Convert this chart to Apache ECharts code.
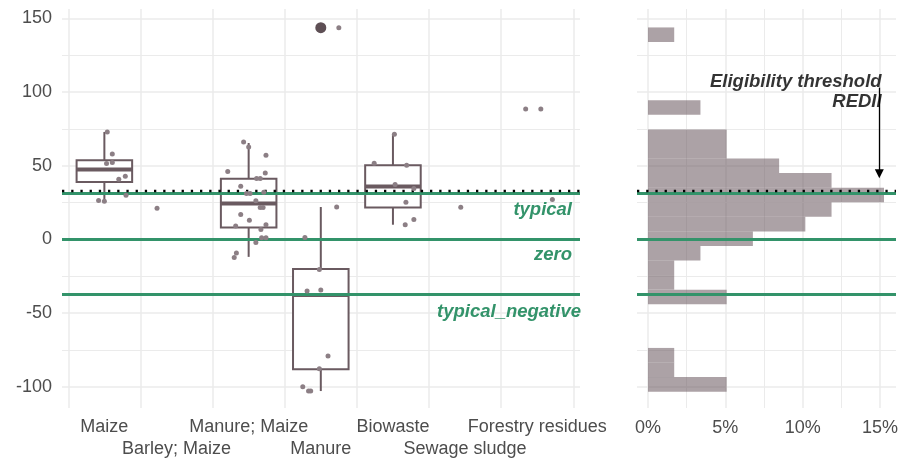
<!DOCTYPE html>
<html><head><meta charset="utf-8">
<script src="https://cdn.jsdelivr.net/npm/echarts@6/dist/echarts.min.js"></script>
<style>html,body{margin:0;padding:0;background:#fff}#c{width:910px;height:460px}</style>
</head><body><div id="c"></div>
<script>
// ---------- data ----------
const categories = ['Maize', 'Barley; Maize', 'Manure; Maize', 'Manure', 'Biowaste', 'Sewage sludge', 'Forestry residues'];

// box stats: [category index, lower whisker, Q1, median, Q3, upper whisker]
const boxMaize       = [0, 26, 39, 47.4, 53.7, 72.9];
const boxManureMaize = [2, -11.8, 8.1, 24.4, 41.1, 65.4];
const boxManure      = [3, -102.8, -88, -37.6, -20, 22];
const boxBiowaste    = [4, 10, 21.7, 36, 50.3, 71.3];

// outliers: [category index, value]
const outlierPoints = [[3, 143.6]];

// jittered observations: category index, horizontal jitter, value
const pointCat = [
  0,0,0,0,0,0,0,0,0,
  1,
  2,2,2,2,2,2,2,2,2,2,2,2,2,2,2,2,2,2,2,2,2,2,2,2,
  3,3,3,3,3,3,3,3,3,3,3,
  4,4,4,4,4,4,4,4,
  5,
  6,6,6
];
const pointJitter = [
  0.04,0.11,0.03,0.11,0.2,0.29,0.3,-0.08,0,
  -0.27,
  -0.07,0,0.24,-0.29,0.23,0.11,0.16,-0.11,-0.03,0.02,0.21,0.1,0.16,0.2,-0.11,0.01,-0.18,0.24,0.17,0.18,0.24,0.1,-0.17,-0.2,
  0.22,-0.22,-0.02,-0.19,0,0.1,-0.02,-0.25,-0.17,-0.14,0.25,
  0.02,-0.26,0.19,0.03,0.29,0.18,0.29,0.17,
  -0.06,
  -0.16,0.05,0.21
];
const pointValue = [
  72.9,58,51.5,52.2,40.9,42.9,30,26.4,26,
  21.2,
  66.1,62.7,57.1,46.1,45.1,41.3,41.3,36.1,31.2,31.2,32,26.2,21.7,21.7,16.9,13.1,9.2,9.9,6.8,1.1,1.1,-2,-9.1,-12.2,
  22.1,1.4,-20.3,-35,-34.3,-79,-87.7,-99.9,-102.8,-102.8,143.6,
  71.3,51.7,50.3,37.3,34.6,25.3,13.6,9.9,
  21.9,
  88.5,88.5,27.1
];

// reference lines
const refNames  = ['typical', 'zero', 'typical_negative'];
const refValues = [31.6, 0, -37.1];
const thresholdValue = 32.9;

// histogram (right panel)
const histEdges = [-103.2,-93.32,-83.44,-73.56,-63.68,-53.8,-43.92,-34.04,-24.16,-14.28,-4.4,5.48,15.36,25.24,35.12,45.0,54.88,64.76,74.64,84.52,94.4,104.28,114.16,124.04,133.92,143.8];
const histCounts = [3,1,1,0,0,0,3,1,1,2,4,6,7,9,7,5,3,3,0,2,0,0,0,0,1];
const histTotal = 59;

// annotation
const annotText = 'Eligibility threshold\nREDII';
const annotPos = [15.1, 100.2];
const arrowFrom = [14.95, 103];
const arrowTo = [14.95, 44.5];

// axis ranges
const yMin = -114.3, yMax = 156.3;
const xPctMin = -0.711, xPctMax = 16.03;

// ---------- styles ----------
const GREEN = '#33936a';
const BOX = '#6a5a60';
const PT = '#8c7f85';
const GRIDC = '#ebebeb';
const TXT = '#4d4d4d';
const FONT = "'Liberation Sans', Arial, sans-serif";

const chart = echarts.init(document.getElementById('c'), null, {renderer: 'canvas'});

const boxes = [boxMaize, boxManureMaize, boxManure, boxBiowaste];
const jitterData = pointValue.map((v, i) => [pointCat[i] + pointJitter[i], v]);
const histData = histCounts.map((c, i) => [histEdges[i], histEdges[i + 1], c / histTotal * 100]).filter(d => d[2] > 0);

function refMarkData(withLabels) {
  const arr = refValues.map((v, i) => ({
    yAxis: v,
    lineStyle: {color: GREEN, width: 3, type: 'solid'},
    label: withLabels ? {
      show: true, formatter: refNames[i], position: 'insideEndBottom',
      distance: i === 2 ? [-1, 8] : (i === 1 ? [8, 6] : [8, 8]),
      color: GREEN, fontSize: 18.5, fontWeight: 'bold', fontStyle: 'italic', fontFamily: FONT
    } : {show: false}
  }));
  arr.push({
    yAxis: thresholdValue,
    lineStyle: {color: '#000', width: 2.3, type: [2.3, 6.9]},
    label: {show: false}
  });
  return arr;
}

const splitL = {show: true, showMinLine: false, showMaxLine: false, lineStyle: {color: GRIDC, width: 1.5}};

const option = {
  animation: false,
  backgroundColor: '#fff',
  grid: [
    {left: 68.3, top: 9, width: 505, height: 399},
    {left: 62, top: 9, width: 518, height: 399},
    {left: 637, top: 9, width: 259, height: 399}
  ],
  xAxis: [
    {
      type: 'category', gridIndex: 0, data: categories, boundaryGap: true,
      axisLine: {show: false}, axisTick: {show: false},
      splitLine: {show: true, lineStyle: {color: GRIDC, width: 1.5}},
      axisLabel: {
        interval: 0, margin: 8, fontSize: 18, lineHeight: 22, color: TXT, fontFamily: FONT,
        formatter: (v, i) => (i % 2 ? '\n' + v : v)
      }
    },
    {type: 'value', gridIndex: 0, min: -0.5, max: 6.5, show: false},
    {type: 'value', gridIndex: 1, min: 0, max: 1, show: false},
    {
      type: 'value', gridIndex: 2, min: xPctMin, max: xPctMax, splitNumber: 3,
      axisLine: {show: false}, axisTick: {show: false},
      axisLabel: {
        margin: 11, fontSize: 18, color: TXT, fontFamily: FONT,
        formatter: v => (Math.abs(v % 5) < 1e-6 ? v + '%' : '')
      },
      splitLine: splitL,
      minorTick: {show: false, splitNumber: 2},
      minorSplitLine: {show: true, lineStyle: {color: GRIDC, width: 1}}
    }
  ],
  yAxis: [
    {type: 'value', gridIndex: 0, min: yMin, max: yMax, show: false},
    {
      type: 'value', gridIndex: 1, min: yMin, max: yMax, splitNumber: 5,
      axisLine: {show: false}, axisTick: {show: false},
      axisLabel: {
        margin: 10, fontSize: 18, color: TXT, fontFamily: FONT,
        formatter: v => (Math.abs(v % 50) < 1e-6 ? String(v) : '')
      },
      splitLine: splitL,
      minorTick: {show: false, splitNumber: 2},
      minorSplitLine: {show: true, lineStyle: {color: GRIDC, width: 1}}
    },
    {
      type: 'value', gridIndex: 2, min: yMin, max: yMax, splitNumber: 5,
      axisLine: {show: false}, axisTick: {show: false},
      axisLabel: {show: false},
      splitLine: splitL,
      minorTick: {show: false, splitNumber: 2},
      minorSplitLine: {show: true, lineStyle: {color: GRIDC, width: 1}}
    }
  ],
  series: [
    {
      type: 'line', xAxisIndex: 2, yAxisIndex: 1, data: [], z: 3, silent: true,
      markLine: {silent: true, symbol: 'none', animation: false, data: refMarkData(true)}
    },
    {
      type: 'custom', xAxisIndex: 3, yAxisIndex: 2, z: 1, silent: true,
      data: histData,
      encode: {x: 2, y: [0, 1]},
      renderItem: (params, api) => {
        const p1 = api.coord([0, api.value(1)]);
        const p2 = api.coord([api.value(2), api.value(0)]);
        return {type: 'rect', shape: {x: p1[0], y: p1[1], width: p2[0] - p1[0], height: p2[1] - p1[1]},
          style: {fill: 'rgba(107,90,96,0.56)'}};
      }
    },
    {
      type: 'line', xAxisIndex: 3, yAxisIndex: 2, data: [], z: 3, silent: true,
      markLine: {silent: true, symbol: 'none', animation: false, data: refMarkData(false)}
    },
    {
      type: 'custom', xAxisIndex: 0, yAxisIndex: 0, z: 4, silent: true,
      data: boxes,
      encode: {x: 0, y: [1, 2, 3, 4, 5]},
      renderItem: (params, api) => {
        const c = api.value(0);
        const lo = api.coord([c, api.value(1)]);
        const q1 = api.coord([c, api.value(2)]);
        const md = api.coord([c, api.value(3)]);
        const q3 = api.coord([c, api.value(4)]);
        const hi = api.coord([c, api.value(5)]);
        const bw = api.size([1, 0])[0] * 0.77;
        const x = lo[0];
        const st = {stroke: BOX, lineWidth: 2, fill: null};
        return {type: 'group', children: [
          {type: 'line', shape: {x1: x, y1: hi[1], x2: x, y2: q3[1]}, style: st},
          {type: 'line', shape: {x1: x, y1: q1[1], x2: x, y2: lo[1]}, style: st},
          {type: 'rect', shape: {x: x - bw / 2, y: q3[1], width: bw, height: q1[1] - q3[1]},
            style: {fill: '#fff', stroke: BOX, lineWidth: 2}},
          {type: 'line', shape: {x1: x - bw / 2, y1: md[1], x2: x + bw / 2, y2: md[1]},
            style: {stroke: BOX, lineWidth: 4}}
        ]};
      }
    },
    {
      type: 'scatter', xAxisIndex: 1, yAxisIndex: 0, z: 5, silent: true,
      data: outlierPoints, symbolSize: 11, itemStyle: {color: '#5e4f55', opacity: 1}
    },
    {
      type: 'scatter', xAxisIndex: 1, yAxisIndex: 0, z: 6, silent: true,
      data: jitterData, symbolSize: 5, itemStyle: {color: PT, opacity: 1}
    },
    {
      type: 'scatter', xAxisIndex: 3, yAxisIndex: 2, z: 7, silent: true,
      data: [annotPos], symbolSize: 0,
      label: {
        show: true, position: 'left', distance: 0, formatter: annotText, align: 'right',
        color: '#000', fontSize: 18.5, fontWeight: 'bold', fontStyle: 'italic', lineHeight: 19.5, fontFamily: FONT
      },
      markLine: {
        silent: true, symbol: ['none', 'triangle'], symbolSize: [9, 9], animation: false,
        lineStyle: {color: '#000', width: 1.3, type: 'solid'},
        label: {show: false},
        data: [[{coord: arrowFrom}, {coord: arrowTo}]]
      }
    }
  ]
};
chart.setOption(option);
</script>
</body></html>
